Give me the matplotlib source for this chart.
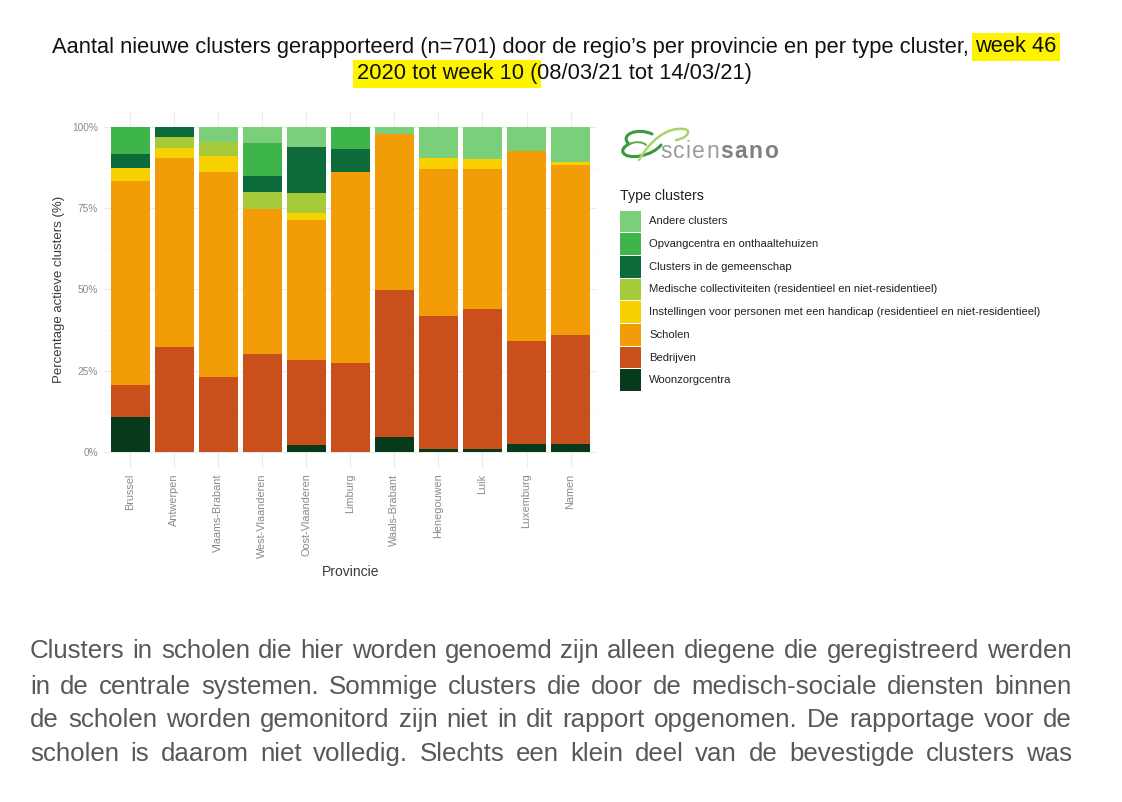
import matplotlib
matplotlib.use("Agg")
import matplotlib.pyplot as plt
from matplotlib.patches import Rectangle, PathPatch
from matplotlib.path import Path
import numpy as np

# ---------------- data ----------------
provinces = ["Brussel", "Antwerpen", "Vlaams-Brabant", "West-Vlaanderen", "Oost-Vlaanderen",
             "Limburg", "Waals-Brabant", "Henegouwen", "Luik", "Luxemburg", "Namen"]

woonzorg = [10.7, 0, 0, 0, 2.1, 0, 4.5, 0.9, 0.9, 2.5, 2.4]
bedrijven = [9.9, 32.2, 22.9, 30.0, 26.2, 27.3, 45.3, 40.9, 43.0, 31.7, 33.6]
scholen = [62.8, 58.2, 63.4, 44.8, 43.1, 59.0, 48.0, 45.3, 43.1, 58.5, 52.3]
instellingen = [4.1, 3.0, 4.8, 0, 2.0, 0, 0, 3.5, 3.1, 0, 1.0]
medische = [0, 3.4, 4.2, 5.2, 6.2, 0, 0, 0, 0, 0, 0]
gemeenschap = [4.1, 3.2, 0, 5.0, 14.3, 6.8, 0, 0, 0, 0, 0]
opvang = [8.4, 0, 0, 10.0, 0, 6.9, 0, 0, 0, 0, 0]
andere = [0, 0, 4.7, 5.0, 6.1, 0, 2.2, 9.4, 9.9, 7.3, 10.7]

legend_labels = ["Andere clusters", "Opvangcentra en onthaaltehuizen", "Clusters in de gemeenschap",
                 "Medische collectiviteiten (residentieel en niet-residentieel)",
                 "Instellingen voor personen met een handicap (residentieel en niet-residentieel)",
                 "Scholen", "Bedrijven", "Woonzorgcentra"]
yticks = [0, 25, 50, 75, 100]
ytick_labels = ["0%", "25%", "50%", "75%", "100%"]

title_line1 = "Aantal nieuwe clusters gerapporteerd (n=701) door de regio\u2019s per provincie en per type cluster,"
title_hl1 = "week 46"
title_hl2 = "2020 tot week 10 ("
title_line2 = "08/03/21 tot 14/03/21)"

paragraph = [
    "Clusters in scholen die hier worden genoemd zijn alleen diegene die geregistreerd werden",
    "in de centrale systemen. Sommige clusters die door de medisch-sociale diensten binnen",
    "de scholen worden gemonitord zijn niet in dit rapport opgenomen. De rapportage voor de",
    "scholen is daarom niet volledig. Slechts een klein deel van de bevestigde clusters was",
]

logo_a = "scien"
logo_b = "sano"

# ---------------- styles ----------------
colors = {
    "andere": "#7BCF7B",
    "opvang": "#3DB54B",
    "gemeenschap": "#0D6A3A",
    "medische": "#A6CA3A",
    "instellingen": "#F7D200",
    "scholen": "#F29D08",
    "bedrijven": "#C9501B",
    "woonzorg": "#073A1B",
}
stack = [("woonzorg", woonzorg), ("bedrijven", bedrijven), ("scholen", scholen),
         ("instellingen", instellingen), ("medische", medische), ("gemeenschap", gemeenschap),
         ("opvang", opvang), ("andere", andere)]
legend_keys = ["andere", "opvang", "gemeenschap", "medische", "instellingen", "scholen", "bedrijven", "woonzorg"]

W, H = 1122, 802
plt.rcParams["font.family"] = ["Liberation Sans", "DejaVu Sans"]
fig = plt.figure(figsize=(W / 100, H / 100), dpi=100)
fig.patch.set_facecolor("white")

def fx(x):
    return x / W

def fy(y):
    return 1 - y / H

# ---------------- axes ----------------
left, right, top, bottom = 103.6, 597.0, 110.8, 468.0
ax = fig.add_axes([fx(left), fy(bottom), fx(right) - fx(left), fy(top) - fy(bottom)])
x = np.arange(len(provinces))
base = np.zeros(len(provinces))
for key, vals in stack:
    v = np.array(vals, dtype=float)
    ax.bar(x, v, bottom=base, width=0.885, color=colors[key], linewidth=0, zorder=2)
    base += v

ax.set_xlim(-0.6, len(provinces) - 0.4)
ax.set_ylim(-5, 105)
ax.set_yticks(yticks)
ax.set_yticklabels(ytick_labels, fontsize=7.3, color="#8a8a8a")
ax.set_yticks([12.5, 37.5, 62.5, 87.5], minor=True)
ax.set_xticks(x)
ax.set_xticklabels(provinces, rotation=90, fontsize=7.8, color="#8a8a8a", va="top", ha="center")
ax.tick_params(axis="both", which="both", length=0)
ax.tick_params(axis="y", pad=4)
ax.tick_params(axis="x", pad=4)
for s in ax.spines.values():
    s.set_visible(False)
ax.grid(True, which="major", color="#ECECEC", linewidth=0.8, zorder=0)
ax.grid(True, which="minor", axis="y", color="#F4F4F4", linewidth=0.5, zorder=0)
ax.set_axisbelow(True)
ax.set_ylabel("Percentage actieve clusters (%)", fontsize=9.5, color="#3a3a3a", labelpad=5)
ax.set_xlabel("Provincie", fontsize=10, color="#3a3a3a", labelpad=5)

# ---------------- legend ----------------
fig.text(fx(620), fy(196), "Type clusters", fontsize=10.2, color="#222222", va="center", ha="left")
key_top = 210.0
key_h = 22.7
for i, (k, lab) in enumerate(zip(legend_keys, legend_labels)):
    y0 = key_top + i * key_h
    fig.patches.append(Rectangle((fx(620), fy(y0 + key_h - 0.5)), fx(641) - fx(620), (key_h - 1) / H,
                                 transform=fig.transFigure, facecolor=colors[k], edgecolor="none"))
    fig.text(fx(649), fy(y0 + key_h / 2), lab, fontsize=8.1, color="#222222", va="center", ha="left")

# ---------------- logo ----------------
def swoosh(points, lw, col):
    verts = [(fx(px), fy(py)) for px, py in points]
    codes = [Path.MOVETO] + [Path.CURVE4] * (len(verts) - 1)
    fig.patches.append(PathPatch(Path(verts, codes), transform=fig.transFigure, facecolor="none",
                                 edgecolor=col, linewidth=lw, capstyle="round"))

swoosh([(652, 134), (637, 127), (619, 135), (629, 144),
        (617, 150), (623, 159), (640, 156),
        (650, 154), (657, 150), (661, 145)], 2.2, "#3A9A3C")
swoosh([(629, 144), (636, 141), (643, 142), (646, 145)], 1.4, "#58AE4A")
swoosh([(639, 160), (650, 141), (666, 127), (684, 129),
        (692, 130), (688, 138), (676, 140)], 1.8, "#A9D46A")

renderer = fig.canvas.get_renderer()

def width_of(s, size, **kw):
    t = fig.text(0, 0, s, fontsize=size, **kw)
    w = t.get_window_extent(renderer).width
    t.remove()
    return w

logo_chars = logo_a + logo_b
lsize = 16.5
cw = [width_of(c, lsize, fontweight=("normal" if i < len(logo_a) else "bold")) for i, c in enumerate(logo_chars)]
track = (118.0 - sum(cw)) / (len(logo_chars) - 1)
xx = 660.0
for i, ch in enumerate(logo_chars):
    is_a = i < len(logo_a)
    fig.text(fx(xx), fy(158), ch, fontsize=lsize, color="#9c9c9c" if is_a else "#808080",
             va="baseline", ha="left", fontweight="normal" if is_a else "bold")
    xx += cw[i] + track

# ---------------- title ----------------
tsize = 13.5
full1 = title_line1 + " " + title_hl1
w_full = width_of(full1, tsize)
tsize = tsize * 1005.0 / w_full
w_full = width_of(full1, tsize)
sp = width_of("a a", tsize) - width_of("aa", tsize)
x0 = 554.5 - w_full / 2
fig.text(fx(x0), fy(47), title_line1, fontsize=tsize, color="#111111", va="center", ha="left")
w_pre = width_of(title_line1, tsize)
fig.text(fx(x0 + w_pre + sp), fy(47), title_hl1, fontsize=tsize, color="#111111", va="center", ha="left",
         bbox=dict(facecolor="#FFF400", edgecolor="none", pad=2.5))
w_h2 = width_of(title_hl2, tsize)
w_l2 = width_of(title_line2, tsize)
x2 = 554.5 - (w_h2 + w_l2) / 2
fig.text(fx(x2), fy(74), title_hl2, fontsize=tsize, color="#111111", va="center", ha="left",
         bbox=dict(facecolor="#FFF400", edgecolor="none", pad=2.5))
fig.text(fx(x2 + w_h2), fy(74), title_line2, fontsize=tsize, color="#111111", va="center", ha="left")

# ---------------- paragraph (justified) ----------------
psize = 14.5
pl, pr = 30.0, 1072.0
w_line0 = width_of(paragraph[0], psize)
psize = psize * (pr - pl) / w_line0 * 0.995
line_y = [651, 687, 720, 754]
for line, yy in zip(paragraph, line_y):
    words = line.split(" ")
    ws = [width_of(wd, psize) for wd in words]
    gap = ((pr - pl) - sum(ws)) / (len(words) - 1)
    xx = pl
    for wd, ww in zip(words, ws):
        fig.text(fx(xx), fy(yy), wd, fontsize=psize, color="#585858", va="center", ha="left")
        xx += ww + gap

fig.savefig("out.png", dpi=100, facecolor="white")
